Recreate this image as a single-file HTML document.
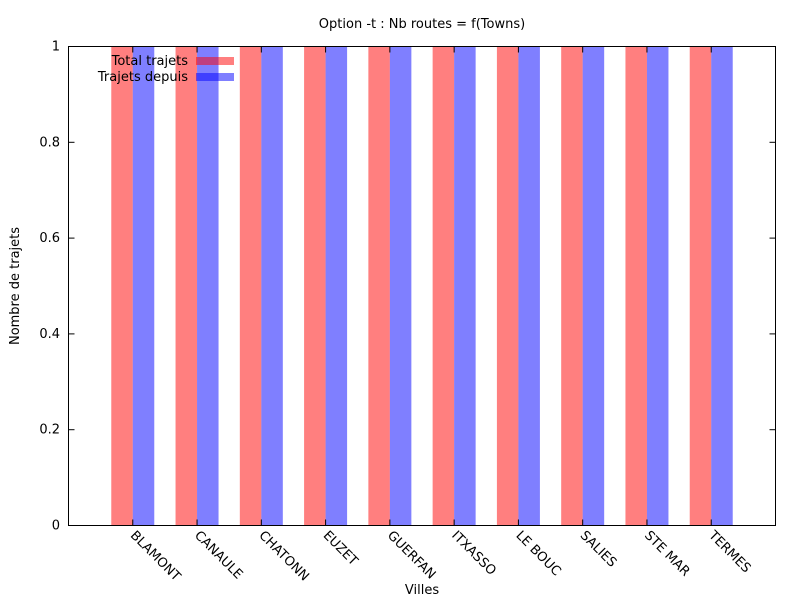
<!DOCTYPE html>
<html><head><meta charset="utf-8"><style>body{margin:0;background:#fff}svg{display:block;font-family:"DejaVu Sans","Liberation Sans",sans-serif}</style></head>
<body>
<svg id="chart" width="800" height="600"></svg>
<script>
const categories=["BLAMONT","CANAULE","CHATONN","EUZET","GUERFAN","ITXASSO","LE BOUC","SALIES","STE MAR","TERMES"];
const totalTrajets=[1,1,1,1,1,1,1,1,1,1];
const trajetsDepuis=[1,1,1,1,1,1,1,1,1,1];
const yTicks=[0,0.2,0.4,0.6,0.8,1];
const yTickLabels=["0","0.2","0.4","0.6","0.8","1"];
const NS="http://www.w3.org/2000/svg";
const svg=document.getElementById('chart');
const L=68.5,R=775.5,T=46.5,B=525.5;
const slot=(R-L)/(categories.length+1);
const xc=i=>L+slot*(i+1);
const y=v=>B-(v-0)/(1-0)*(B-T);
function mk(t,a,p){const e=document.createElementNS(NS,t);for(const k in a)e.setAttribute(k,a[k]);(p||svg).appendChild(e);return e;}
function txt(x,yy,s,a){const e=mk('text',Object.assign({x:x,y:yy,'font-size':13,fill:'#000'},a||{}));e.textContent=s;return e;}
const bw=21.5;
categories.forEach((c,i)=>{
 const r=mk('rect',{x:xc(i)-bw,y:y(totalTrajets[i]),width:bw,height:B-y(totalTrajets[i]),fill:'#ff0000','fill-opacity':0.5});
 
 
 const b=mk('rect',{x:xc(i),y:y(trajetsDepuis[i]),width:bw,height:B-y(trajetsDepuis[i]),fill:'#0000ff','fill-opacity':0.5});
 
 
 mk('line',{x1:xc(i),x2:xc(i),y1:B,y2:B-6,stroke:'#000'});
 mk('line',{x1:xc(i),x2:xc(i),y1:T,y2:T+6,stroke:'#000'});
 const t=txt(xc(i)-3,536,c,{transform:`rotate(45 ${xc(i)-3} 536)`});
 
 
});
yTicks.forEach((v,i)=>{
 mk('line',{x1:L,x2:L+6,y1:y(v),y2:y(v),stroke:'#000'});
 mk('line',{x1:R,x2:R-6,y1:y(v),y2:y(v),stroke:'#000'});
 const t=txt(60,y(v)+4,yTickLabels[i],{'text-anchor':'end'});
 
 
});
const fr=mk('rect',{x:L,y:T,width:R-L,height:B-T,fill:'none',stroke:'#000'});

const ti=txt(422,28,'Option -t : Nb routes = f(Towns)',{'text-anchor':'middle'});

const xt=txt(422,594,'Villes',{'text-anchor':'middle'});

const yt=txt(19,286,'Nombre de trajets',{'text-anchor':'middle',transform:'rotate(-90 19 286)'});

const l1=txt(188,65,'Total trajets',{'text-anchor':'end'});

const s1=mk('rect',{x:196,y:57,width:38,height:8,fill:'#ff0000','fill-opacity':0.5});

const l2=txt(188,81,'Trajets depuis',{'text-anchor':'end'});

const s2=mk('rect',{x:196,y:73,width:38,height:8,fill:'#0000ff','fill-opacity':0.5});

</script>
</body></html>
